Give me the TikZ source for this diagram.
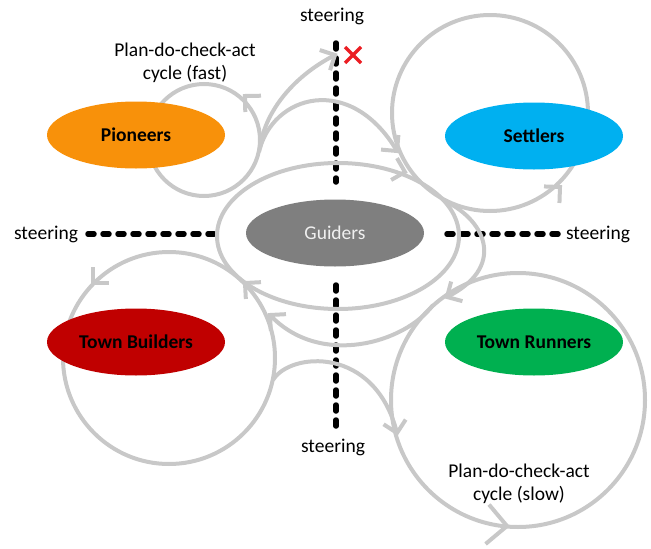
\documentclass[tikz,border=0pt]{standalone}
\usepackage{fontspec}
\setmainfont{Carlito}
\usetikzlibrary{shapes.geometric}
\definecolor{flowgray}{RGB}{200,200,200}
\definecolor{pioorange}{RGB}{248,145,10}
\definecolor{setblue}{RGB}{0,176,240}
\definecolor{guigray}{RGB}{127,127,127}
\definecolor{tbred}{RGB}{192,0,0}
\definecolor{trgreen}{RGB}{0,176,80}
\definecolor{xred}{RGB}{235,30,35}
\newcommand\flowbarb[3][16]{\draw[barbline] (#2) ++({#3+135}:#1) -- (#2) -- ++({#3-135}:#1);}
\begin{document}
\begin{tikzpicture}[x=1pt,y=-1pt,
  flow/.style={draw=flowgray, line width=4pt},
  barbline/.style={draw=flowgray, line width=4pt, line cap=butt, line join=miter},
  steerline/.style={line width=5.5pt, dash pattern=on 6pt off 9pt, line cap=round},
  actor/.style={ellipse, minimum width=178pt, minimum height=67pt, inner sep=0pt,
    font=\fontsize{19.5}{23}\selectfont\bfseries},
  lbl/.style={font=\fontsize{19.5}{23}\selectfont, align=center, inner sep=0pt}]
\useasboundingbox (0,0) rectangle (651,549);

% steering lines
\draw[steerline] (336,43) -- (336,182);
\draw[steerline] (336,285) -- (336,430);
\draw[steerline] (88,234) -- (218,234);
\draw[steerline] (447,234) -- (558,234);

% cycles
\draw[flow] (204,140) circle[radius=56pt];
\draw[flow] (490,113) circle[radius=98pt];
\draw[flow] (169,358) circle[radius=106pt];
\draw[flow] (518,400) circle[radius=127pt];
\draw[flow] (338,236) ellipse[x radius=121pt, y radius=73pt];

% connector end points
\coordinate (p1s) at (260,148);
\coordinate (p1e) at (335,55);
\coordinate (p2s) at (259,152);
\coordinate (p2e) at (397,151);
\coordinate (s3s) at (445,201);
\coordinate (s3e) at (447,297);
\coordinate (r4s) at (433,305);
\coordinate (r4e) at (270,315);
\coordinate (b5s) at (273,380);
\coordinate (b5e) at (397,433);

\draw[flow] (p1s) .. controls (264,115) and (290,78) .. (p1e);
\draw[flow] (p2s) .. controls (272,95) and (350,72) .. (p2e);
\draw[flow] (s3s) .. controls (488,222) and (505,268) .. (s3e);
\draw[flow] (r4s) .. controls (405,343) and (320,368) .. (r4e);
\draw[flow] (b5s) .. controls (290,352) and (375,345) .. (b5e);

% arrow heads
\flowbarb{p1e}{-27}
\flowbarb{p2e}{50}
\flowbarb{s3e}{150}
\flowbarb{r4e}{222}
\flowbarb{b5e}{78}
\coordinate (a1) at (245,96);  \flowbarb{a1}{224}
\coordinate (a2) at (560,187); \flowbarb{a2}{-43}
\coordinate (a3) at (93,283);  \flowbarb{a3}{135}
\coordinate (a4) at (507,526); \flowbarb[28]{a4}{5}
\coordinate (a5) at (405,172); \flowbarb{a5}{15}
\coordinate (a6) at (245,283); \flowbarb{a6}{222}

% actors
\node[actor, fill=pioorange] (pio) at (136,135) {Pioneers};
\node[actor, fill=setblue] (set) at (534,136) {Settlers};
\node[actor, fill=guigray, text=white!88!gray, font=\fontsize{19.5}{23}\selectfont] (gui) at (335,233) {Guiders};
\node[actor, fill=tbred] (tb) at (136,342) {Town Builders};
\node[actor, fill=trgreen] (tr) at (534,342) {Town Runners};

% labels
\node[lbl] (st1) at (332,16) {steering};
\node[lbl] (st2) at (46,234) {steering};
\node[lbl] (st3) at (598,234) {steering};
\node[lbl] (st4) at (333,447) {steering};
\node[lbl] (fast) at (185,63) {Plan-do-check-act\\cycle (fast)};
\node[lbl] (slow) at (519,484) {Plan-do-check-act\\cycle (slow)};

% blocked mark
\coordinate (xc) at (353,55);
\draw[xred, line width=3.5pt] (xc) ++(-8,-8) -- ++(16,16) (xc) ++(-8,8) -- ++(16,-16);
\end{tikzpicture}
\end{document}
